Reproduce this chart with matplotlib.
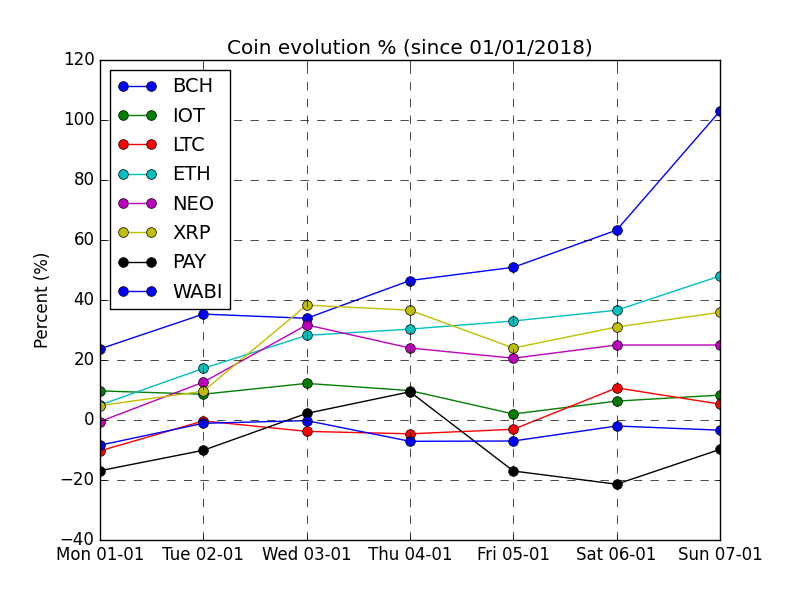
import matplotlib
matplotlib.use('Agg')
import matplotlib.pyplot as plt

days = ['Mon 01-01', 'Tue 02-01', 'Wed 03-01', 'Thu 04-01', 'Fri 05-01', 'Sat 06-01', 'Sun 07-01']

# percent change since 01/01/2018
bch = [23.7, 35.3, 33.9, 46.5, 50.9, 63.3, 103.0]
iot = [9.7, 8.6, 12.2, 9.8, 2.0, 6.3, 8.3]
ltc = [-10.3, -0.3, -3.8, -4.6, -3.1, 10.7, 5.3]
eth = [5.0, 17.2, 28.2, 30.3, 33.0, 36.6, 48.0]
neo = [-0.5, 12.6, 31.7, 24.0, 20.6, 25.0, 25.0]
xrp = [4.8, 9.6, 38.3, 36.6, 24.0, 31.0, 35.9]
pay = [-16.9, -10.1, 2.2, 9.4, -17.0, -21.4, -9.8]
wabi = [-8.4, -1.1, -0.2, -7.1, -7.0, -2.0, -3.4]

coins = ['BCH', 'IOT', 'LTC', 'ETH', 'NEO', 'XRP', 'PAY', 'WABI']
series = [bch, iot, ltc, eth, neo, xrp, pay, wabi]
colors = ['b', 'g', 'r', 'c', 'm', 'y', 'k', 'b']

plt.style.use('classic')
fig = plt.figure(figsize=(8, 6), dpi=100)
ax = fig.add_subplot(111)

x = range(len(days))
for name, vals, col in zip(coins, series, colors):
    ax.plot(x, vals, '-o', color=col, label=name, markersize=7)

ax.set_xticks(list(x))
ax.set_xticklabels(days)
ax.set_xlim(0, len(days) - 1)
ax.set_ylim(-40, 120)
ax.set_ylabel('Percent (%)')
ax.set_title('Coin evolution % (since 01/01/2018)')
ax.grid(True, linestyle=(0, (6, 6)), color='k', linewidth=0.5)
ax.legend(loc='upper left', fontsize=14, numpoints=2, labelspacing=0.53)

fig.savefig('out.png', dpi=100)
